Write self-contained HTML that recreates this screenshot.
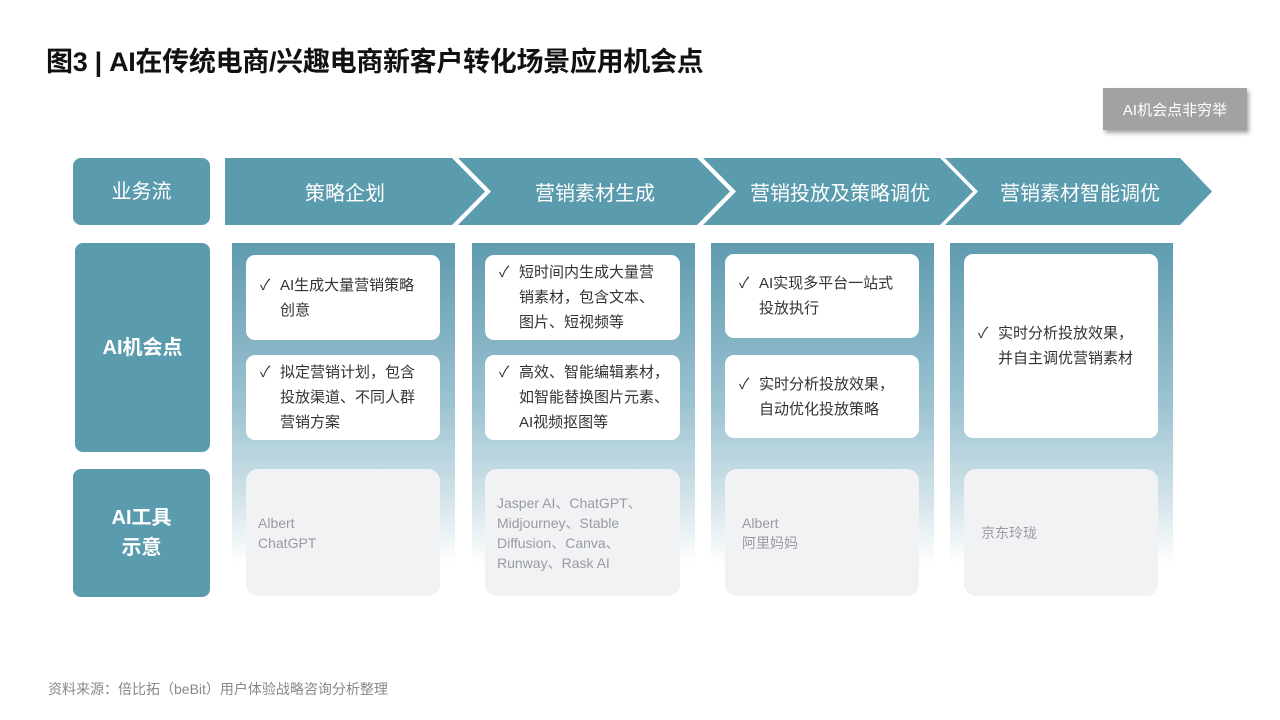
<!DOCTYPE html>
<html><head><meta charset="utf-8"><style>
*{margin:0;padding:0;box-sizing:border-box}
body{width:1280px;height:720px;background:#fff;position:relative;overflow:hidden;font-family:"Liberation Sans","Noto Sans CJK SC",sans-serif}
.a{position:absolute}
.lab{position:absolute;background:#5b9bae;border-radius:8px;color:#fff;font-size:20px;display:flex;align-items:center;justify-content:center;text-align:center;line-height:30px}
.panel{position:absolute;top:243px;height:357px;background:linear-gradient(#5f9bb0 0%,#9cc3d1 45%,#cfe1e8 70%,#fff 90%)}
.card{position:absolute;background:#fff;border-radius:9px;font-size:15px;color:#333;line-height:25px;padding-left:34px;display:flex;flex-direction:column;justify-content:center}
.card .t{position:relative}
.card .ck{position:absolute;left:-20px;top:0}
.tool{position:absolute;top:469px;height:127px;background:#f1f2f3;border-radius:12px;font-size:14px;color:#999ba3;line-height:20px;padding-left:12px;display:flex;flex-direction:column;justify-content:center}
.ct{position:absolute;top:158px;height:67px;color:#fff;font-size:20px;display:flex;align-items:center;justify-content:center}
</style></head><body>
<div class="a" style="left:46px;top:40px;font-size:27px;font-weight:bold;color:#111;letter-spacing:-0.3px">图3 | AI在传统电商/兴趣电商新客户转化场景应用机会点</div>
<div class="a" style="left:1103px;top:88px;width:144px;height:42px;background:#a2a2a2;color:#fff;font-size:15px;display:flex;align-items:center;justify-content:center;box-shadow:2px 3px 4px rgba(0,0,0,.35)">AI机会点非穷举</div>

<svg class="a" style="left:0;top:0" width="1280" height="240">
<g fill="#5b9bae">
<polygon points="225,158 452,158 485,191.5 452,225 225,225"/>
<polygon points="458,158 697,158 730,191.5 697,225 458,225 491,191.5"/>
<polygon points="703,158 940,158 973,191.5 940,225 703,225 736,191.5"/>
<polygon points="945,158 1180,158 1212,191.5 1180,225 945,225 978,191.5"/>
</g></svg>
<div class="ct" style="left:225px;width:240px">策略企划</div>
<div class="ct" style="left:475px;width:240px">营销素材生成</div>
<div class="ct" style="left:720px;width:240px">营销投放及策略调优</div>
<div class="ct" style="left:960px;width:240px">营销素材智能调优</div>

<div class="lab" style="left:73px;top:158px;width:137px;height:67px">业务流</div>
<div class="lab" style="left:75px;top:243px;width:135px;height:209px;font-weight:bold">AI机会点</div>
<div class="lab" style="left:73px;top:469px;width:137px;height:128px;font-weight:bold">AI工具<br>示意</div>

<div class="panel" style="left:232px;width:223px"></div>
<div class="panel" style="left:472px;width:223px"></div>
<div class="panel" style="left:711px;width:223px"></div>
<div class="panel" style="left:950px;width:223px"></div>

<div class="card" style="left:246px;top:255px;width:194px;height:85px"><div class="t"><span class="ck">✓</span>AI生成大量营销策略<br>创意</div></div>
<div class="card" style="left:246px;top:355px;width:194px;height:85px"><div class="t"><span class="ck">✓</span>拟定营销计划，包含<br>投放渠道、不同人群<br>营销方案</div></div>
<div class="card" style="left:485px;top:255px;width:195px;height:85px"><div class="t"><span class="ck">✓</span>短时间内生成大量营<br>销素材，包含文本、<br>图片、短视频等</div></div>
<div class="card" style="left:485px;top:355px;width:195px;height:85px"><div class="t"><span class="ck">✓</span>高效、智能编辑素材，<br>如智能替换图片元素、<br>AI视频抠图等</div></div>
<div class="card" style="left:725px;top:254px;width:194px;height:84px"><div class="t"><span class="ck">✓</span>AI实现多平台一站式<br>投放执行</div></div>
<div class="card" style="left:725px;top:355px;width:194px;height:83px"><div class="t"><span class="ck">✓</span>实时分析投放效果，<br>自动优化投放策略</div></div>
<div class="card" style="left:964px;top:254px;width:194px;height:184px"><div class="t"><span class="ck">✓</span>实时分析投放效果，<br>并自主调优营销素材</div></div>

<div class="tool" style="left:246px;width:194px">Albert<br>ChatGPT</div>
<div class="tool" style="left:485px;width:195px">Jasper AI、ChatGPT、<br>Midjourney、Stable<br>Diffusion、Canva、<br>Runway、Rask AI</div>
<div class="tool" style="left:725px;width:194px;padding-left:17px">Albert<br>阿里妈妈</div>
<div class="tool" style="left:964px;width:194px;padding-left:17px">京东玲珑</div>

<div class="a" style="left:48px;top:679px;font-size:14px;color:#888">资料来源：倍比拓（beBit）用户体验战略咨询分析整理</div>
</body></html>
